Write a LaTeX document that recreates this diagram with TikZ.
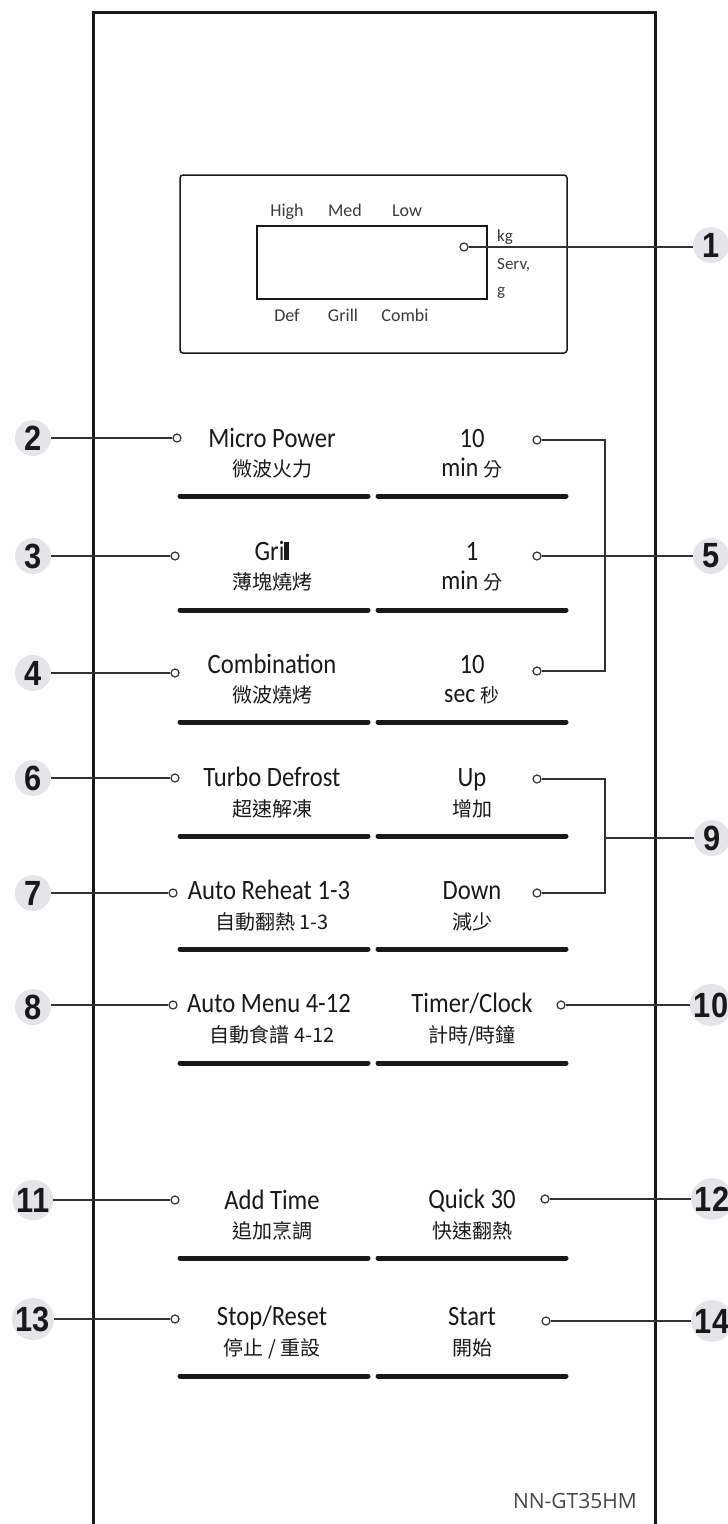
\documentclass[tikz,border=0pt]{standalone}
\usepackage{fontspec}
\setmainfont{Carlito}
\newfontfamily\condfont[FakeStretch=0.88]{Carlito}
\newfontfamily\cjk{Noto Sans CJK TC}
\newfontfamily\badgefont[FakeStretch=0.88]{Liberation Sans}
\newfontfamily\modelfont{Open Sans}
\definecolor{badgegray}{RGB}{228,228,233}
\definecolor{ink}{RGB}{25,25,25}
\definecolor{wire}{RGB}{50,50,50}
\tikzset{
  badge/.style={circle, fill=badgegray, minimum size=36pt, inner sep=0pt, text=ink,
    font=\badgefont\bfseries\fontsize{35}{35}\selectfont},
  dot/.style={circle, draw=wire, fill=white, line width=1.2pt, minimum size=8pt, inner sep=0pt},
  conn/.style={draw=wire, line width=1.6pt},
  lat/.style={anchor=base, inner sep=0pt, text=ink, font=\condfont\fontsize{28}{28}\selectfont},
  han/.style={anchor=base, inner sep=0pt, text=ink, font=\cjk\fontsize{20}{20}\selectfont},
  mix/.style={anchor=base, inner sep=0pt, text=ink, font=\condfont\fontsize{27}{27}\selectfont},
  disp/.style={anchor=base, inner sep=0pt, text=ink!85, font=\fontsize{18}{18}\selectfont},
  unit/.style={anchor=base west, inner sep=0pt, text=ink!85, font=\fontsize{17}{17}\selectfont},
  bar/.style={line width=5pt, line cap=round, draw=ink},
}
\begin{document}
\begin{tikzpicture}[x=1pt, y=-1pt]
\useasboundingbox (0,0) rectangle (728,1524);
% panel
\draw[line width=3pt, ink] (93,1540) -- (93,12) -- (655,12) -- (655,1540);
% display
\draw[line width=1.5pt, ink, rounded corners=3pt] (180,175) rectangle (567,353);
\draw[line width=1.5pt, ink] (257,226) rectangle (487,299);
\node[disp] (hi) at (287,216) {High};
\node[disp] (me) at (345,216) {Med};
\node[disp] (lo) at (407,216) {Low};
\node[disp] (de) at (287,321) {Def};
\node[disp] (gr) at (343,321) {Grill};
\node[disp] (co) at (405,321) {Combi};
\node[unit] (kg) at (497,241) {kg};
\node[unit] (sv) at (497,269) {Serv,};
\node[unit] (gg) at (497,295) {g};
\node[dot] (d1) at (464,247) {};

% bars
\foreach \y in {496,610,722,836,949,1063,1258,1376}{
  \draw[bar] (180,\y) -- (368,\y);
  \draw[bar] (378,\y) -- (566,\y);
}

% left labels
\node[lat] (t2) at (272,447) {Micro Power};
\node[han] (c2) at (272,476) {微波火力};
\node[lat] (t3) at (272,560) {Gri\rule{5pt}{18pt}};
\node[han] (c3) at (272,589) {薄塊燒烤};
\node[lat] (t4) at (272,673) {Combination};
\node[han] (c4) at (272,702) {微波燒烤};
\node[lat] (t6) at (272,786) {Turbo Defrost};
\node[han] (c6) at (272,816) {超速解凍};
\node[lat] (t7) at (269,899) {Auto Reheat 1-3};
\node[han] (c7) at (272,929) {自動翻熱 1-3};
\node[lat] (t8) at (269,1012) {Auto Menu 4-12};
\node[han] (c8) at (272,1042) {自動食譜 4-12};
\node[lat] (t11) at (272,1209) {Add Time};
\node[han] (c11) at (272,1238) {追加烹調};
\node[lat] (t13) at (272,1325) {Stop/Reset};
\node[han] (c13) at (272,1355) {停止 / 重設};

% right labels
\node[lat] (u1) at (472,447) {10};
\node[mix] (m1) at (472,476) {min {\cjk\fontsize{19}{19}\selectfont 分}};
\node[lat] (u2) at (472,560) {1};
\node[mix] (m2) at (472,589) {min {\cjk\fontsize{19}{19}\selectfont 分}};
\node[lat] (u3) at (472,673) {10};
\node[mix] (m3) at (472,702) {sec {\cjk\fontsize{19}{19}\selectfont 秒}};
\node[lat] (u4) at (472,786) {Up};
\node[han] (m4) at (472,816) {增加};
\node[lat] (u5) at (472,899) {Down};
\node[han] (m5) at (472,929) {減少};
\node[lat] (u6) at (472,1012) {Timer/Clock};
\node[han] (m6) at (472,1042) {計時/時鐘};
\node[lat] (u7) at (472,1208) {Quick 30};
\node[han] (m7) at (472,1238) {快速翻熱};
\node[lat] (u8) at (472,1325) {Start};
\node[han] (m8) at (472,1355) {開始};

\node[anchor=base east, inner sep=0pt, text=ink!80, font=\modelfont\fontsize{21}{21}\selectfont] (model) at (637,1508) {NN-GT35HM};

% dots
\node[dot] (l2) at (177,438) {};
\node[dot] (l3) at (175,556) {};
\node[dot] (l4) at (175,673) {};
\node[dot] (l6) at (175,778) {};
\node[dot] (l7) at (173,893) {};
\node[dot] (l8) at (173,1005) {};
\node[dot] (l11) at (175,1200) {};
\node[dot] (l13) at (175,1319) {};
\node[dot] (r1) at (537,440) {};
\node[dot] (r2) at (537,556) {};
\node[dot] (r3) at (537,671) {};
\node[dot] (r4) at (537,779) {};
\node[dot] (r5) at (537,893) {};
\node[dot] (r6) at (561,1005) {};
\node[dot] (r7) at (545,1199) {};
\node[dot] (r8) at (546,1321) {};

% badges
\node[badge] (b1) at (711,245) {1};
\node[badge] (b2) at (33,438) {2};
\node[badge] (b3) at (33,556) {3};
\node[badge] (b4) at (33,673) {4};
\node[badge] (b5) at (711,556) {5};
\node[badge] (b6) at (33,778) {6};
\node[badge] (b7) at (33,893) {7};
\node[badge] (b8) at (33,1007) {8};
\node[badge] (b9) at (712,838) {9};
\node[badge] (b10) at (711,1005) {10};
\node[badge] (b11) at (33,1200) {11};
\node[badge] (b12) at (712,1199) {12};
\node[badge] (b13) at (33,1319) {13};
\node[badge] (b14) at (712,1321) {14};

\coordinate (k5) at (605,556);
\coordinate (k9) at (605,838);

% connectors
\draw[conn] (d1) -- (b1.west |- d1);
\draw[conn] (b2) -- (l2);
\draw[conn] (b3) -- (l3);
\draw[conn] (b4) -- (l4);
\draw[conn] (b6) -- (l6);
\draw[conn] (b7) -- (l7);
\draw[conn] (b8.east |- l8) -- (l8);
\draw[conn] (b11) -- (l11);
\draw[conn] (b13) -- (l13);
\draw[conn] (r1) -| (k5) |- (r3);
\draw[conn] (r2) -- (b5);
\draw[conn] (r4) -| (k9) |- (r5);
\draw[conn] (k9) -- (b9);
\draw[conn] (r6) -- (b10.west |- r6);
\draw[conn] (r7) -- (b12);
\draw[conn] (r8) -- (b14);
\end{tikzpicture}
\end{document}
